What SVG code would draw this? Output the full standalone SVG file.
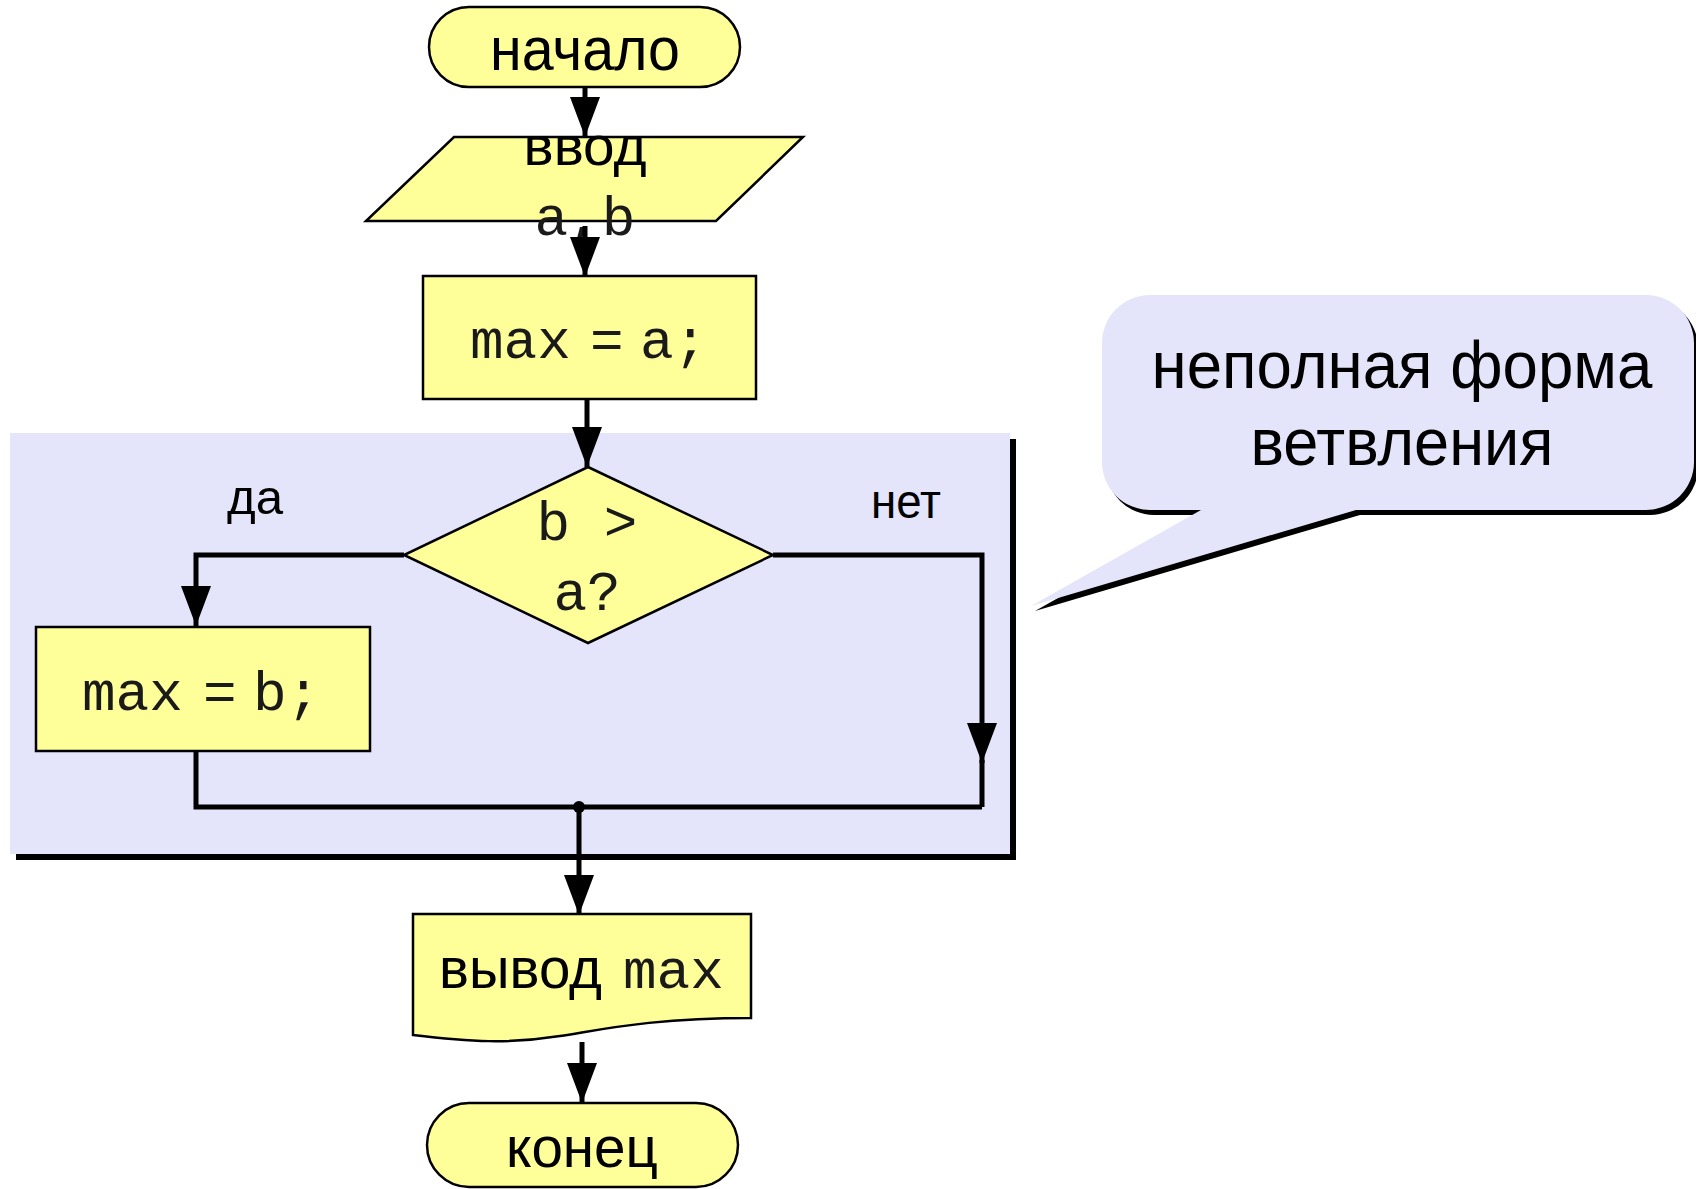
<svg xmlns="http://www.w3.org/2000/svg" width="1696" height="1189" viewBox="0 0 1696 1189">
  <style>
    .blk { fill: #FFFF99; stroke: #000; stroke-width: 2.5; }
    .sans { font-family: "Liberation Sans", Arial, sans-serif; fill: #000; }
    .mono { font-family: "Liberation Mono", "Courier New", monospace; fill: #1a1a1a; font-size: 56px; }
    .wire { fill: none; stroke: #000; stroke-width: 5; }
  </style>
  <defs>
    <marker id="arrow" markerUnits="userSpaceOnUse" markerWidth="40" markerHeight="30" refX="40" refY="15" orient="auto">
      <path d="M0,0 L40,15 L0,30 Z" fill="#000"/>
    </marker>
  </defs>

  <rect width="1696" height="1189" fill="#fff"/>

  <!-- shaded panel around the branch with its drop shadow -->
  <g id="branch-panel">
    <rect x="16" y="439" width="1000" height="421" fill="#000"/>
    <rect x="10" y="433" width="1000" height="421" fill="#E4E4FA"/>
  </g>

  <!-- speech bubble -->
  <g id="callout">
    <path transform="translate(4,5)" fill="#000" d="M1150,295 H1646 A48,48 0 0 1 1694,343 V462 A48,48 0 0 1 1646,510 H1356 L1031,606 L1201,510 H1150 A48,48 0 0 1 1102,462 V343 A48,48 0 0 1 1150,295 Z"/>
    <path fill="#E4E4FA" d="M1150,295 H1646 A48,48 0 0 1 1694,343 V462 A48,48 0 0 1 1646,510 H1356 L1031,606 L1201,510 H1150 A48,48 0 0 1 1102,462 V343 A48,48 0 0 1 1150,295 Z"/>
    <text class="sans" x="1402" y="388" font-size="66" text-anchor="middle" textLength="501" lengthAdjust="spacingAndGlyphs">неполная форма</text>
    <text class="sans" x="1402" y="465" font-size="66" text-anchor="middle" textLength="303" lengthAdjust="spacingAndGlyphs">ветвления</text>
  </g>

  <g id="start">
    <rect class="blk" x="429" y="7" width="311" height="80" rx="40"/>
    <text class="sans" x="585" y="70" font-size="62" text-anchor="middle" textLength="190" lengthAdjust="spacingAndGlyphs">начало</text>
  </g>

  <g id="input">
    <polygon class="blk" points="454,137 803,137 716,221 366,221"/>
    <text class="sans" x="585" y="165" font-size="56" text-anchor="middle" textLength="123" lengthAdjust="spacingAndGlyphs">ввод</text>
    <text class="mono" x="585" y="235" text-anchor="middle">a,b</text>
  </g>

  <g id="assign-a">
    <rect class="blk" x="423" y="276" width="333" height="123"/>
    <text class="mono" y="358"><tspan x="470">max</tspan><tspan x="590">=</tspan><tspan x="640">a;</tspan></text>
  </g>

  <g id="condition">
    <polygon class="blk" points="588,467 773,555 588,643 404,555"/>
    <text class="mono" x="587" y="540" text-anchor="middle">b &gt;</text>
    <text class="mono" x="587" y="610" text-anchor="middle">a?</text>
  </g>

  <g id="label-yes">
    <text class="sans" x="227" y="514" font-size="48" textLength="56" lengthAdjust="spacingAndGlyphs">да</text>
  </g>
  <g id="label-no">
    <text class="sans" x="871" y="518" font-size="48" textLength="70" lengthAdjust="spacingAndGlyphs">нет</text>
  </g>

  <g id="assign-b">
    <rect class="blk" x="36" y="627" width="334" height="124"/>
    <text class="mono" y="710"><tspan x="82">max</tspan><tspan x="203">=</tspan><tspan x="253">b;</tspan></text>
  </g>

  <g id="output">
    <path class="blk" d="M413,914 H751 V1018 C650,1018 600,1030 560,1036 C510,1044 470,1042 413,1035 Z"/>
    <text class="sans" x="439" y="988" font-size="58" textLength="163" lengthAdjust="spacingAndGlyphs">вывод</text>
    <text class="mono" x="623" y="988">max</text>
  </g>

  <g id="end">
    <rect class="blk" x="427" y="1103" width="311" height="84" rx="42"/>
    <text class="sans" x="582" y="1167" font-size="58" text-anchor="middle" textLength="152" lengthAdjust="spacingAndGlyphs">конец</text>
  </g>

  <g id="connectors">
    <path class="wire" d="M585,87 V137" marker-end="url(#arrow)"/>
    <path class="wire" d="M585,226 V277" marker-end="url(#arrow)"/>
    <path class="wire" d="M587,399 V467" marker-end="url(#arrow)"/>
    <path class="wire" d="M404,555 H196 V626" marker-end="url(#arrow)"/>
    <path class="wire" d="M773,555 H982 V763" marker-end="url(#arrow)"/>
    <path class="wire" d="M982,760 V807"/>
    <path class="wire" d="M196,751 V807 H982"/>
    <circle cx="579" cy="807" r="6" fill="#000"/>
    <path class="wire" d="M579,807 V915" marker-end="url(#arrow)"/>
    <path class="wire" d="M582,1042 V1103" marker-end="url(#arrow)"/>
  </g>
</svg>
